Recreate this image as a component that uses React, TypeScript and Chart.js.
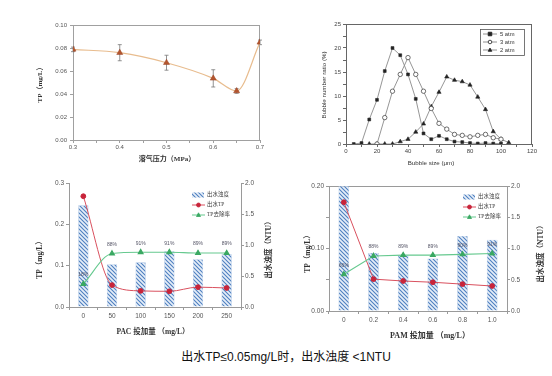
import React, { useEffect, useRef } from 'react';
import { Chart, registerables } from 'chart.js';
Chart.register(...registerables);

// ---- Chart 1: TP vs dissolved-air pressure ----
const pressure = [0.3, 0.4, 0.5, 0.6, 0.65, 0.7];
const tpByPressure = [0.0788, 0.0759, 0.0672, 0.0536, 0.0426, 0.0849];
const tpErr = [0.002, 0.007, 0.0065, 0.0075, 0.002, 0.002];

// ---- Chart 2: bubble size distribution ----
const bubbleSizes = [5, 10, 15, 20, 25, 30, 35, 40, 45, 50, 55, 60, 65, 70, 75, 80, 85, 90, 95, 100, 105];
const ratio5atm = [0, 0.2, 5.1, 9.2, 15.2, 20.0, 18.5, 14.5, 9.4, 2.2, 1.0, 1.7, 1.0, 0.5, 0.4, 0.2, 0.1, 0.2, 0.1, 0.1, null];
const ratio3atm = [null, null, null, 0, 5.5, 11.0, 14.5, 18.0, 14.5, 11.0, 7.4, 4.3, 3.1, 2.0, 1.8, 1.5, 1.8, 2.0, 1.3, 1.0, null];
const ratio2atm = [null, null, 0, 0, 0, 0, 0.5, 1.0, 2.5, 4.2, 7.8, 10.8, 14.0, 13.3, 13.0, 12.3, 9.8, 7.2, 2.6, 1.0, 0.3];

// ---- Chart 3: PAC dosage ----
const pacDoses = ['0', '50', '100', '150', '200', '250'];
const pacTurbidity = [1.64, 0.69, 0.72, 0.9, 0.77, 0.85];
const pacTP = [0.268, 0.053, 0.039, 0.038, 0.048, 0.046];
const pacRemoval = [18, 88, 91, 91, 89, 89];

// ---- Chart 4: PAM dosage ----
const pamDoses = ['0', '0.2', '0.4', '0.6', '0.8', '1.0'];
const pamTurbidity = [2.0, 0.93, 0.89, 0.84, 1.2, 1.14];
const pamTP = [0.174, 0.051, 0.048, 0.046, 0.043, 0.04];
const pamRemoval = [66, 88, 89, 89, 90, 91];

const SANS = '"Liberation Sans", "Noto Sans CJK SC", sans-serif';
const SERIF = '"Liberation Serif", "Noto Sans CJK SC", serif';

function makeHatch(): CanvasPattern | string {
  const c = document.createElement('canvas');
  c.width = 4; c.height = 4;
  const g = c.getContext('2d');
  if (!g) return '#8fb0d8';
  g.fillStyle = '#e6eef8';
  g.fillRect(0, 0, 4, 4);
  g.strokeStyle = '#4e7fc0';
  g.lineWidth = 1.1;
  g.beginPath();
  g.moveTo(-1, -1); g.lineTo(5, 5);
  g.moveTo(-1, 3); g.lineTo(1, 5);
  g.moveTo(3, -1); g.lineTo(5, 1);
  g.stroke();
  return g.createPattern(c, 'repeat') || '#8fb0d8';
}

type T = { text: string; x: number; y: number; rot?: number; font: string; color?: string };
const titlesPlugin = (titles: T[]) => ({
  id: 'titles',
  afterDraw(chart: any) {
    const ctx = chart.ctx;
    titles.forEach((t) => {
      ctx.save();
      ctx.translate(t.x, t.y);
      ctx.rotate(t.rot || 0);
      ctx.font = t.font;
      ctx.fillStyle = t.color || '#333';
      ctx.textAlign = 'center';
      ctx.textBaseline = 'middle';
      ctx.fillText(t.text, 0, 0);
      ctx.restore();
    });
  },
});

const framePlugin = (top: boolean, right: boolean, color: string) => ({
  id: 'frame',
  beforeDatasetsDraw(chart: any) {
    const { ctx, chartArea: a } = chart;
    ctx.save();
    ctx.strokeStyle = color;
    ctx.lineWidth = 1;
    ctx.beginPath();
    if (top) { ctx.moveTo(a.left, Math.round(a.top) + 0.5); ctx.lineTo(a.right, Math.round(a.top) + 0.5); }
    if (right) { ctx.moveTo(Math.round(a.right) - 0.5, a.top); ctx.lineTo(Math.round(a.right) - 0.5, a.bottom); }
    ctx.stroke();
    ctx.restore();
  },
});

const errorBarPlugin = {
  id: 'errorBars',
  beforeDatasetsDraw(chart: any) {
    const { ctx, scales } = chart;
    const x = scales.x, y = scales.y;
    ctx.save();
    ctx.strokeStyle = '#777';
    ctx.lineWidth = 0.8;
    pressure.forEach((p, i) => {
      const px = x.getPixelForValue(p);
      const t = y.getPixelForValue(tpByPressure[i] + tpErr[i]);
      const b = y.getPixelForValue(tpByPressure[i] - tpErr[i]);
      ctx.beginPath();
      ctx.moveTo(px, t); ctx.lineTo(px, b);
      ctx.moveTo(px - 2, t); ctx.lineTo(px + 2, t);
      ctx.moveTo(px - 2, b); ctx.lineTo(px + 2, b);
      ctx.stroke();
    });
    ctx.restore();
  },
};

const rateLabelPlugin = (labels: string[]) => ({
  id: 'rateLabels',
  afterDatasetsDraw(chart: any) {
    const ctx = chart.ctx;
    const meta = chart.getDatasetMeta(2);
    ctx.save();
    ctx.font = '5px ' + SANS;
    ctx.fillStyle = '#556';
    ctx.textAlign = 'center';
    ctx.textBaseline = 'middle';
    meta.data.forEach((pt: any, i: number) => ctx.fillText(labels[i], pt.x, pt.y - 9));
    ctx.restore();
  },
});

function drawMarker(ctx: CanvasRenderingContext2D, kind: string, x: number, y: number, r: number, fill: string, stroke: string) {
  ctx.beginPath();
  if (kind === 'circle') ctx.arc(x, y, r, 0, Math.PI * 2);
  else if (kind === 'rect') ctx.rect(x - r, y - r, 2 * r, 2 * r);
  else { ctx.moveTo(x, y - r * 1.1); ctx.lineTo(x + r, y + r * 0.75); ctx.lineTo(x - r, y + r * 0.75); ctx.closePath(); }
  ctx.fillStyle = fill; ctx.fill();
  ctx.strokeStyle = stroke; ctx.lineWidth = 0.8; ctx.stroke();
}

const comboLegendPlugin = (x0: number, y0: number, hatch: any) => ({
  id: 'comboLegend',
  afterDraw(chart: any) {
    const ctx = chart.ctx;
    const ds = chart.data.datasets;
    ctx.save();
    ctx.font = '5.5px ' + SERIF;
    ctx.textBaseline = 'middle';
    ctx.textAlign = 'left';
    // bar row
    ctx.fillStyle = hatch;
    ctx.fillRect(x0, y0 - 2.5, 12, 5);
    ctx.fillStyle = '#444';
    ctx.fillText(ds[0].label, x0 + 15, y0);
    for (let k = 1; k <= 2; k++) {
      const y = y0 + k * 10;
      ctx.strokeStyle = ds[k].borderColor;
      ctx.lineWidth = 1;
      ctx.beginPath(); ctx.moveTo(x0, y); ctx.lineTo(x0 + 13, y); ctx.stroke();
      drawMarker(ctx, k === 1 ? 'circle' : 'tri', x0 + 6.5, y, 2, ds[k].pointBackgroundColor, ds[k].pointBackgroundColor);
      ctx.fillStyle = '#444';
      ctx.fillText(ds[k].label, x0 + 15, y);
    }
    ctx.restore();
  },
});

const bubbleLegendPlugin = {
  id: 'bubbleLegend',
  afterDraw(chart: any) {
    const ctx = chart.ctx;
    const ds = chart.data.datasets;
    const bx = 204, by = 29, bw = 44, bh = 26;
    ctx.save();
    ctx.fillStyle = '#fff';
    ctx.fillRect(bx, by, bw, bh);
    ctx.strokeStyle = '#555';
    ctx.lineWidth = 0.8;
    ctx.strokeRect(bx + 0.5, by + 0.5, bw, bh);
    ctx.font = '5.8px ' + SANS;
    ctx.textBaseline = 'middle';
    ctx.textAlign = 'left';
    const kinds = ['rect', 'circle', 'tri'];
    ds.forEach((d: any, i: number) => {
      const y = by + 5 + i * 8;
      ctx.strokeStyle = '#777';
      ctx.lineWidth = 0.8;
      ctx.beginPath(); ctx.moveTo(bx + 3, y); ctx.lineTo(bx + 17, y); ctx.stroke();
      drawMarker(ctx, kinds[i], bx + 10, y, 1.8, i === 1 ? '#fff' : '#222', '#222');
      ctx.fillStyle = '#333';
      ctx.fillText(d.label, bx + 20, y);
    });
    ctx.restore();
  },
};

function makeCombo(o: any, hatch: any) {
  const axisColor = '#9a9a9a';
  const tickFont = { size: 6.5, family: SANS };
  return {
    type: 'bar',
    data: {
      labels: o.labels,
      datasets: [
        { type: 'bar', label: '出水浊度', data: o.turb, yAxisID: 'y1', backgroundColor: hatch, borderColor: '#a9c2e2', borderWidth: 0.6, barPercentage: 0.36, categoryPercentage: 1, order: 5 },
        { type: 'line', label: '出水TP', data: o.tp, yAxisID: 'y', borderColor: '#d9505e', borderWidth: 1, pointRadius: 2.4, pointBackgroundColor: '#c8243a', pointBorderColor: '#c8243a', cubicInterpolationMode: o.smooth ? 'monotone' : 'default', tension: 0, order: 1 },
        { type: 'line', label: 'TP去除率', data: o.rate, yAxisID: 'yr', borderColor: '#66c98f', borderWidth: 1.1, pointStyle: 'triangle', pointRadius: 2.8, pointBackgroundColor: '#3aa862', pointBorderColor: '#3aa862', cubicInterpolationMode: o.smooth ? 'monotone' : 'default', tension: 0, order: 0 },
      ],
    },
    options: {
      responsive: false, animation: false, devicePixelRatio: 1,
      layout: { padding: { left: 0, top: o.top, right: 0, bottom: 0 } },
      plugins: { legend: { display: false }, tooltip: { enabled: false } },
      scales: {
        x: {
          type: 'category', offset: true,
          afterFit: (s: any) => { s.height = o.xHeight; },
          grid: { offset: true, drawOnChartArea: false, tickLength: 3, color: axisColor },
          border: { color: axisColor },
          ticks: { font: tickFont, color: '#555', padding: 2, maxRotation: 0, autoSkip: false },
        },
        y: {
          position: 'left', min: 0, max: o.tpMax,
          afterFit: (s: any) => { s.width = o.leftWidth; },
          grid: { drawOnChartArea: false, tickLength: 3, color: axisColor },
          border: { color: axisColor },
          ticks: {
            stepSize: o.tpStep, font: tickFont, color: '#555', padding: 2, autoSkip: false,
            callback: (v: number) => {
              const r = v / o.tpLabelStep;
              return Math.abs(r - Math.round(r)) < 1e-6 ? v.toFixed(o.tpDecimals) : '';
            },
          },
        },
        y1: {
          position: 'right', min: 0, max: 2,
          afterFit: (s: any) => { s.width = o.rightWidth; },
          grid: { drawOnChartArea: false, tickLength: 3, color: axisColor },
          border: { color: axisColor },
          ticks: { stepSize: 0.5, font: tickFont, color: '#555', padding: 1, callback: (v: number) => v.toFixed(1) },
        },
        yr: { display: false, min: o.rateMin, max: o.rateMax },
      },
    },
    plugins: [
      framePlugin(o.topFrame, false, axisColor),
      rateLabelPlugin(o.rate.map((v: number) => v + '%')),
      comboLegendPlugin(o.legendX, o.legendY, hatch),
      titlesPlugin(o.titles),
    ],
  };
}

export default function App() {
  const c1 = useRef<HTMLCanvasElement>(null);
  const c2 = useRef<HTMLCanvasElement>(null);
  const c3 = useRef<HTMLCanvasElement>(null);
  const c4 = useRef<HTMLCanvasElement>(null);

  useEffect(() => {
    const hatch = makeHatch();
    const charts: Chart[] = [];
    const gray = '#a0a0a0';
    const titleFont = 'bold 7.5px ' + SERIF;

    // Chart 1
    charts.push(new Chart(c1.current as HTMLCanvasElement, {
      type: 'line',
      data: {
        datasets: [{
          data: pressure.map((x, i) => ({ x, y: tpByPressure[i] })),
          borderColor: '#e8bc8e', borderWidth: 1.2, cubicInterpolationMode: 'monotone',
          pointStyle: 'triangle', pointRadius: 3.5, pointBackgroundColor: '#b4552e', pointBorderColor: '#9a4524', pointBorderWidth: 0.5,
        }],
      },
      options: {
        responsive: false, animation: false, devicePixelRatio: 1,
        layout: { padding: { left: 0, top: 25, right: 16, bottom: 0 } },
        plugins: { legend: { display: false }, tooltip: { enabled: false } },
        scales: {
          x: {
            type: 'linear', min: 0.3, max: 0.7,
            afterFit: (s: any) => { s.height = 30; },
            grid: { drawOnChartArea: false, tickLength: 3, color: gray },
            border: { color: gray },
            ticks: {
              stepSize: 0.05, autoSkip: false, maxRotation: 0, padding: 1, font: { size: 6, family: SANS }, color: '#555',
              callback: (v: any) => (Math.abs(v * 10 - Math.round(v * 10)) < 1e-6 ? Number(v).toFixed(1) : ''),
            },
          },
          y: {
            min: 0, max: 0.1,
            afterFit: (s: any) => { s.width = 73; },
            grid: { drawOnChartArea: false, tickLength: 3, color: gray },
            border: { color: gray },
            ticks: { stepSize: 0.02, padding: 3, font: { size: 6, family: SANS }, color: '#555', callback: (v: any) => Number(v).toFixed(2) },
          },
        },
      } as any,
      plugins: [
        framePlugin(true, true, gray),
        errorBarPlugin,
        titlesPlugin([
          { text: 'TP（mg/L）', x: 40, y: 83, rot: -Math.PI / 2, font: 'bold 7px ' + SERIF },
          { text: '溶气压力（MPa）', x: 167, y: 159, font: 'bold 7px ' + SERIF },
        ]),
      ],
    } as any));

    // Chart 2
    const dk = '#666';
    const mk = (vals: (number | null)[]) =>
      bubbleSizes.map((x, i) => ({ x, y: vals[i] })).filter((p) => p.y !== null);
    charts.push(new Chart(c2.current as HTMLCanvasElement, {
      type: 'line',
      data: {
        datasets: [
          { label: '5 atm', data: mk(ratio5atm), borderColor: '#8a8a8a', borderWidth: 0.9, pointStyle: 'rect', pointRadius: 2, pointBackgroundColor: '#222', pointBorderColor: '#222', pointBorderWidth: 0.6 },
          { label: '3 atm', data: mk(ratio3atm), borderColor: '#8a8a8a', borderWidth: 0.9, pointStyle: 'circle', pointRadius: 2.2, pointBackgroundColor: '#fff', pointBorderColor: '#333', pointBorderWidth: 0.7 },
          { label: '2 atm', data: mk(ratio2atm), borderColor: '#8a8a8a', borderWidth: 0.9, pointStyle: 'triangle', pointRadius: 2.4, pointBackgroundColor: '#222', pointBorderColor: '#222', pointBorderWidth: 0.6 },
        ],
      },
      options: {
        responsive: false, animation: false, devicePixelRatio: 1,
        layout: { padding: { left: 0, top: 24, right: 20, bottom: 0 } },
        plugins: { legend: { display: false }, tooltip: { enabled: false } },
        scales: {
          x: {
            type: 'linear', min: 0, max: 120,
            afterFit: (s: any) => { s.height = 26; },
            grid: { drawOnChartArea: false, tickLength: 3, color: dk },
            border: { color: dk },
            ticks: { stepSize: 10, autoSkip: false, maxRotation: 0, padding: 1, font: { size: 6, family: SANS }, color: '#444', callback: (v: any) => (v % 20 === 0 ? String(v) : '') },
          },
          y: {
            min: 0, max: 25,
            afterFit: (s: any) => { s.width = 70; },
            grid: { drawOnChartArea: false, tickLength: 3, color: dk },
            border: { color: dk },
            ticks: { stepSize: 2.5, autoSkip: false, padding: 2, font: { size: 6, family: SANS }, color: '#444', callback: (v: any) => (v % 5 === 0 ? String(v) : '') },
          },
        },
      } as any,
      plugins: [
        framePlugin(true, true, dk),
        bubbleLegendPlugin,
        titlesPlugin([
          { text: 'Bubble number ratio (%)', x: 48, y: 85, rot: -Math.PI / 2, font: '6.2px ' + SANS, color: '#333' },
          { text: 'Bubble size (μm)', x: 155, y: 163, font: '6.2px ' + SANS, color: '#333' },
        ]),
      ],
    } as any));

    // Chart 3
    charts.push(new Chart(c3.current as HTMLCanvasElement, makeCombo({
      labels: pacDoses, turb: pacTurbidity, tp: pacTP, rate: pacRemoval,
      rateMin: -35, rateMax: 250, tpMax: 0.3, tpStep: 0.1, tpLabelStep: 0.1, tpDecimals: 1,
      leftWidth: 69, rightWidth: 35, xHeight: 33, top: 13, smooth: true, topFrame: false,
      legendX: 192, legendY: 25,
      titles: [
        { text: 'TP（mg/L）', x: 40, y: 88, rot: -Math.PI / 2, font: titleFont },
        { text: '出水浊度（NTU）', x: 269, y: 78, rot: -Math.PI / 2, font: titleFont },
        { text: 'PAC 投加量 （mg/L）', x: 153, y: 162, font: titleFont },
      ],
    }, hatch) as any));

    // Chart 4
    charts.push(new Chart(c4.current as HTMLCanvasElement, makeCombo({
      labels: pamDoses, turb: pamTurbidity, tp: pamTP, rate: pamRemoval,
      rateMin: 22, rateMax: 172, tpMax: 0.2, tpStep: 0.05, tpLabelStep: 0.1, tpDecimals: 2,
      leftWidth: 53, rightWidth: 45, xHeight: 29, top: 16, smooth: false, topFrame: true,
      legendX: 187, legendY: 27,
      titles: [
        { text: 'TP（mg/L）', x: 32, y: 82, rot: -Math.PI / 2, font: titleFont },
        { text: '出水浊度（NTU）', x: 265, y: 82, rot: -Math.PI / 2, font: titleFont },
        { text: 'PAM 投加量 （mg/L）', x: 154, y: 166, font: 'bold 8px ' + SERIF },
      ],
    }, hatch) as any));

    return () => charts.forEach((c) => c.destroy());
  }, []);

  const abs = (l: number, t: number) => ({ position: 'absolute' as const, left: l, top: t });
  return (
    <div style={{ position: 'fixed', left: 0, top: 0, width: 552, height: 376, background: '#fff', overflow: 'hidden' }}>
      <canvas ref={c1} width={276} height={170} style={abs(0, 0)} />
      <canvas ref={c2} width={276} height={170} style={abs(276, 0)} />
      <canvas ref={c3} width={276} height={170} style={abs(0, 170)} />
      <canvas ref={c4} width={276} height={170} style={abs(276, 170)} />
      <div style={{ position: 'absolute', left: 0, width: 572, top: 347, textAlign: 'center', fontSize: 12, fontFamily: SANS, color: '#111', whiteSpace: 'nowrap' }}>
        出水TP≤0.05mg/L时，出水浊度 &lt;1NTU
      </div>
    </div>
  );
}
